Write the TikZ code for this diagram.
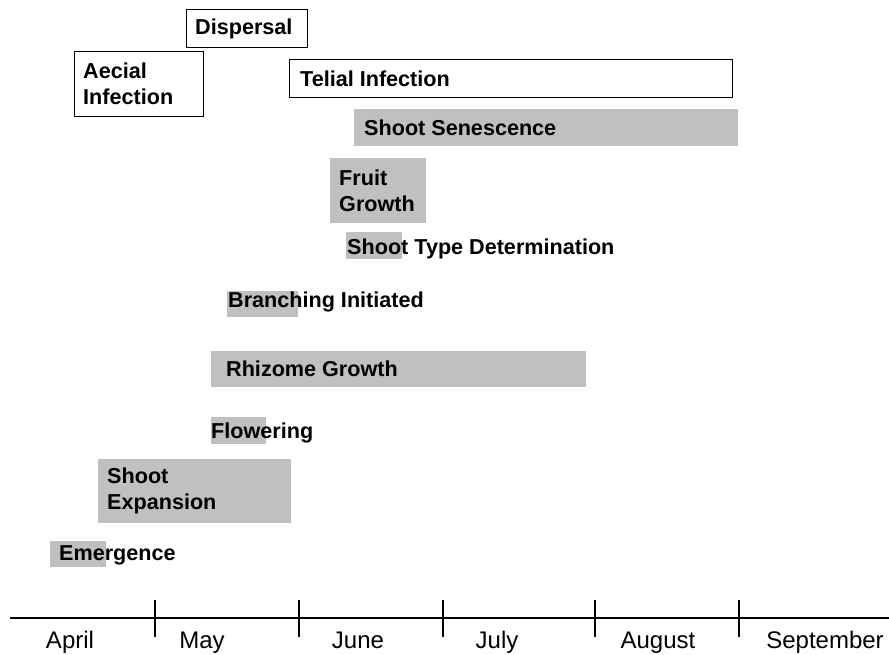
\documentclass[tikz,border=0pt]{standalone}
\usepackage{fontspec}
\setmainfont{Liberation Sans}
\usepackage{xcolor}
\usepackage{tikz}
\usetikzlibrary{positioning}

\definecolor{barfill}{RGB}{192,192,192}
\newcommand{\lblfont}{\fontsize{21.6}{26}\selectfont\bfseries}
\newcommand{\monthfont}{\fontsize{24}{28}\selectfont}

\tikzset{
  bar/.style={fill=barfill, inner sep=0pt, anchor=north west},
  framed/.style={draw, line width=1.4pt, fill=white, inner sep=0pt, anchor=north west},
  lbl/.style={anchor=west, inner sep=0pt, font=\lblfont, align=left},
  month/.style={anchor=base, inner sep=0pt, font=\monthfont}
}

\begin{document}
\begin{tikzpicture}[x=1pt, y=-1pt]
  \useasboundingbox (0,0) rectangle (889,654);
  % fungus stages
  \node[framed, minimum width=121pt, minimum height=38pt] (disp) at (186,9) {};
  \node[lbl, right=9pt of disp.west] (dispT) {Dispersal};
  \node[framed, minimum width=129pt, minimum height=65pt] (aecial) at (74,51) {};
  \node[lbl, right=9pt of aecial.west] (aecialT) {Aecial\\Infection};
  \node[framed, minimum width=443pt, minimum height=38pt] (telial) at (289,59) {};
  \node[lbl, right=11pt of telial.west] (telialT) {Telial Infection};
  % host stages
  \node[bar, minimum width=384pt, minimum height=37pt] (senes) at (354,109) {};
  \node[lbl, right=10pt of senes.west] (senesT) {Shoot Senescence};
  \node[bar, minimum width=96pt, minimum height=65pt] (fruit) at (330,158) {};
  \node[lbl, right=9pt of fruit.west] (fruitT) {Fruit\\Growth};
  \node[bar, minimum width=56pt, minimum height=27pt] (type) at (346,232) {};
  \node[lbl, right=1pt of type.west, yshift=-3pt] (typeT) {Shoot Type Determination};
  \node[bar, minimum width=71pt, minimum height=26pt] (branch) at (227,291) {};
  \node[lbl, right=1pt of branch.west, yshift=2pt] (branchT) {Branching Initiated};
  \node[bar, minimum width=375pt, minimum height=36pt] (rhiz) at (211,351) {};
  \node[lbl, right=15pt of rhiz.west] (rhizT) {Rhizome Growth};
  \node[bar, minimum width=55pt, minimum height=27pt] (flow) at (211,417) {};
  \node[lbl, right=0pt of flow.west, yshift=-2pt] (flowT) {Flowering};
  \node[bar, minimum width=193pt, minimum height=64pt] (expan) at (98,459) {};
  \node[lbl, right=9pt of expan.west] (expanT) {Shoot\\Expansion};
  \node[bar, minimum width=56pt, minimum height=26pt] (emerg) at (50,541) {};
  \node[lbl, right=9pt of emerg.west, yshift=-1pt] (emergT) {Emergence};
  % time axis
  \coordinate (axL) at (10,618);
  \coordinate (axR) at (889,618);
  \draw[line width=1.5pt] (axL) -- (axR);
  \foreach \x in {155,299,443,595,739}
    \draw[line width=1.2pt] (\x,600) -- (\x,637);
  \foreach \x/\m in {70/April, 202/May, 358/June, 497/July, 658/August, 825/September}
    \node[month] (m-\m) at (\x,648) {\m};
\end{tikzpicture}
\end{document}
